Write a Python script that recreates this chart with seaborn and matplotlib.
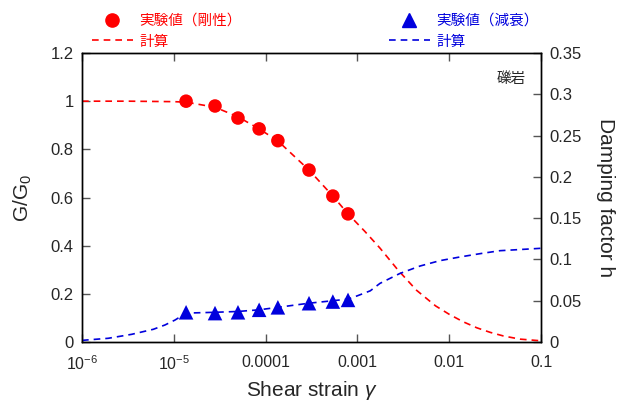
import matplotlib
matplotlib.use("Agg")
import matplotlib.pyplot as plt
from matplotlib.lines import Line2D
from matplotlib.ticker import FixedLocator, FuncFormatter, NullLocator
import pandas as pd
import seaborn as sns

# measured points
test_strain = [1.36e-5, 2.81e-5, 5.0e-5, 8.5e-5, 1.36e-4, 2.97e-4, 5.4e-4, 7.9e-4]
test_g_ratio = [1.0, 0.98, 0.93, 0.885, 0.836, 0.714, 0.606, 0.532]
test_damping = [0.036, 0.035, 0.036, 0.039, 0.042, 0.047, 0.049, 0.051]

# calculated curves
calc_g_strain = [1e-6, 3.2e-6, 1e-5, 1.36e-5, 2.81e-5, 5.0e-5, 8.5e-5, 1.36e-4,
                 2.97e-4, 5.4e-4, 7.9e-4, 1.2e-3, 1.76e-3, 2.75e-3, 4.4e-3,
                 7.1e-3, 1e-2, 1.42e-2, 2.0e-2, 2.8e-2, 3.9e-2, 5.9e-2, 1e-1]
calc_g_ratio = [1.0, 1.0, 0.998, 0.996, 0.975, 0.935, 0.885, 0.835,
                0.714, 0.606, 0.532, 0.46, 0.39, 0.3, 0.215,
                0.15, 0.115, 0.084, 0.059, 0.04, 0.025, 0.012, 0.005]

calc_h_strain = [1e-6, 1.93e-6, 3.47e-6, 5.98e-6, 8.0e-6, 1.03e-5, 1.36e-5, 2.81e-5,
                 5.0e-5, 8.5e-5, 1.36e-4, 2.97e-4, 5.4e-4, 7.9e-4, 1.0e-3, 1.38e-3,
                 1.76e-3, 2.9e-3, 4.8e-3, 7.9e-3, 1.31e-2, 2.17e-2, 3.57e-2,
                 5.9e-2, 1e-1]
calc_h_damping = [0.002, 0.0045, 0.0093, 0.0154, 0.0206, 0.0266, 0.035, 0.036,
                  0.037, 0.039, 0.042, 0.047, 0.05, 0.052, 0.056, 0.062,
                  0.071, 0.083, 0.092, 0.0985, 0.103, 0.107, 0.1106,
                  0.112, 0.1135]

x_ticks = [1e-6, 1e-5, 1e-4, 1e-3, 1e-2, 1e-1]
x_tick_labels = ["$10^{-6}$", "$10^{-5}$", "0.0001", "0.001", "0.01", "0.1"]
g_ticks = [0, 0.2, 0.4, 0.6, 0.8, 1.0, 1.2]
h_ticks = [0, 0.05, 0.1, 0.15, 0.2, 0.25, 0.3, 0.35]

RED = "#ff0000"
BLUE = "#0000dd"
DASH = (0, (4, 3))

sns.set_style("ticks")
plt.rcParams["font.family"] = ["Liberation Sans", "Noto Sans CJK JP", "DejaVu Sans"]
plt.rcParams["mathtext.fontset"] = "custom"
plt.rcParams["mathtext.rm"] = "Liberation Sans"
plt.rcParams["mathtext.it"] = "Liberation Sans:italic"
plt.rcParams["xtick.direction"] = "in"
plt.rcParams["ytick.direction"] = "in"

fig = plt.figure(figsize=(6.28, 4.01), dpi=100)
ax = fig.add_axes([0.1306, 0.1471, 0.7309, 0.7207])
ax2 = ax.twinx()

g_curve = pd.DataFrame({"strain": calc_g_strain, "ratio": calc_g_ratio})
h_curve = pd.DataFrame({"strain": calc_h_strain, "damping": calc_h_damping})
tests = pd.DataFrame({"strain": test_strain, "ratio": test_g_ratio, "damping": test_damping})

sns.lineplot(data=g_curve, x="strain", y="ratio", ax=ax, color=RED, lw=1.2, linestyle=DASH)
sns.scatterplot(data=tests, x="strain", y="ratio", ax=ax, color=RED, s=95,
                marker="o", edgecolor="none", zorder=5)
sns.lineplot(data=h_curve, x="strain", y="damping", ax=ax2, color=BLUE, lw=1.2, linestyle=DASH)
sns.scatterplot(data=tests, x="strain", y="damping", ax=ax2, color=BLUE, s=110,
                marker="^", edgecolor="none", zorder=5)

for a in (ax, ax2):
    a.set_xscale("log")
    a.set_xlim(1e-6, 1e-1)
    a.xaxis.set_minor_locator(NullLocator())
    a.yaxis.set_minor_locator(NullLocator())
    a.set_xlabel("")
    a.set_ylabel("")
    for s in a.spines.values():
        s.set_color("black")
        s.set_linewidth(1.0)

ax.set_ylim(0, 1.2)
ax2.set_ylim(0, 0.35)
ax.xaxis.set_major_locator(FixedLocator(x_ticks))
ax.set_xticklabels(x_tick_labels)
ax.yaxis.set_major_locator(FixedLocator(g_ticks))
ax.yaxis.set_major_formatter(FuncFormatter(lambda v, p: f"{v:g}"))
ax2.yaxis.set_major_locator(FixedLocator(h_ticks))
ax2.yaxis.set_major_formatter(FuncFormatter(lambda v, p: f"{v:g}"))
ax.tick_params(axis="x", which="major", top=True, length=6, width=1, labelsize=11.5,
               pad=9, color="#555555")
ax.tick_params(axis="y", which="major", length=6, width=1, labelsize=12, pad=6, color="#555555")
ax2.tick_params(axis="y", which="major", length=6, width=1, labelsize=12, pad=6, color="#555555")

ax.set_xlabel(r"Shear strain $\it{\gamma}$", fontsize=15, labelpad=4)
ax.set_ylabel("G/G$_0$", fontsize=15, labelpad=12)
ax2.set_ylabel("Damping factor h", fontsize=15, rotation=-90, labelpad=24)

ax.text(0.967, 0.91, "礫岩", transform=ax.transAxes, ha="right", va="center",
        fontsize=10.5, family=["Noto Sans CJK JP"])

jp = {"family": ["Noto Sans CJK JP", "DejaVu Sans"], "size": 10.5}
legend_kw = dict(loc="upper left", frameon=False, prop=jp, borderpad=0,
                 borderaxespad=0, handlelength=2.8, handletextpad=0.45,
                 labelspacing=0.45)
left_handles = [
    Line2D([], [], color=RED, marker="o", ls="none", ms=9.5),
    Line2D([], [], color=RED, ls=DASH, lw=1.2),
]
leg1 = fig.legend(left_handles, ["実験値（剛性）", "計算"],
                  bbox_to_anchor=(0.1465, 0.965), **legend_kw)
for t in leg1.get_texts():
    t.set_color(RED)
right_handles = [
    Line2D([], [], color=BLUE, marker="^", ls="none", ms=10),
    Line2D([], [], color=BLUE, ls=DASH, lw=1.2),
]
leg2 = fig.legend(right_handles, ["実験値（減衰）", "計算"],
                  bbox_to_anchor=(0.619, 0.965), **legend_kw)
for t in leg2.get_texts():
    t.set_color(BLUE)

fig.savefig("out.png", dpi=100)
